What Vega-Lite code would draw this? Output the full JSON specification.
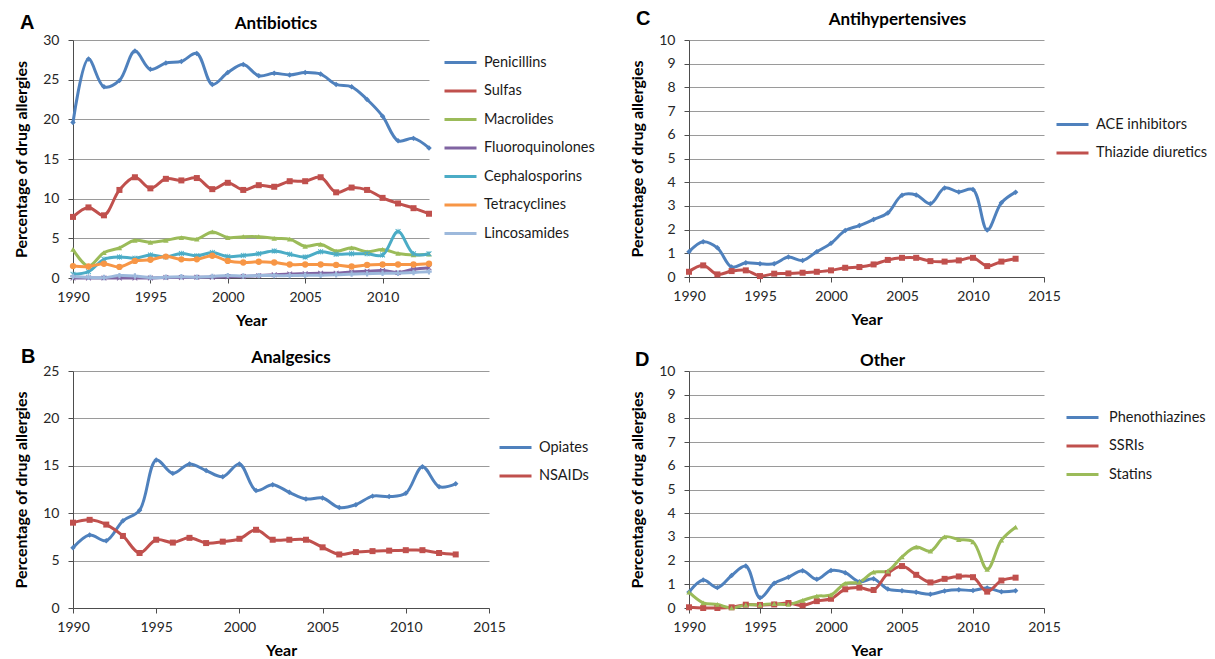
{
"$schema": "https://vega.github.io/schema/vega-lite/v6.json",
"padding": {"left": 13, "top": 9, "right": 0, "bottom": 0},
"background": "white",
"columns": 2,
"bounds": "flush",
"spacing": {"row": 93, "column": 200},
"resolve": {"scale": {"color": "independent"}, "legend": {"color": "independent"}},
"config": {
  "view": {"stroke": null},
  "font": "Lato",
  "axis": {"labelFont": "Lato", "labelFontSize": 14, "labelColor": "#262626", "labelFlush": false, "domainColor": "#4d4d4d", "tickColor": "#4d4d4d", "tickSize": 5, "titleFont": "Lato", "titleFontSize": 16, "titleFontWeight": "bold", "titleColor": "#000000", "gridColor": "#9a9a9a", "gridWidth": 1},
  "axisX": {"grid": false, "labelPadding": 7, "titlePadding": 8, "format": "d"},
  "axisY": {"labelPadding": 9, "titlePadding": 13},
  "legend": {"orient": "none", "symbolType": "stroke", "symbolSize": 1024, "symbolStrokeWidth": 4, "labelFont": "Lato", "labelFontSize": 14.5, "labelColor": "#1a1a1a", "labelOffset": 6, "rowPadding": 4.5, "title": null},
  "title": {"font": "Lato", "fontSize": 17, "fontWeight": "bold", "color": "#000000", "anchor": "middle", "frame": "group", "baseline": "alphabetic", "offset": -20},
  "point": {"filled": true, "size": 30, "opacity": 1},
  "line": {"strokeWidth": 3, "interpolate": "catmull-rom"},
  "text": {"align": "left", "baseline": "alphabetic", "fontSize": 20, "fontWeight": "bold", "font": "Liberation Sans", "color": "#000000"}
},
"datasets": {
  "antibiotics": [
{"year":1990,"drug":"Penicillins","pct":19.6},{"year":1991,"drug":"Penicillins","pct":27.6},{"year":1992,"drug":"Penicillins","pct":24.1},{"year":1993,"drug":"Penicillins","pct":24.9},{"year":1994,"drug":"Penicillins","pct":28.6},{"year":1995,"drug":"Penicillins","pct":26.3},{"year":1996,"drug":"Penicillins","pct":27.1},{"year":1997,"drug":"Penicillins","pct":27.3},{"year":1998,"drug":"Penicillins","pct":28.3},{"year":1999,"drug":"Penicillins","pct":24.4},{"year":2000,"drug":"Penicillins","pct":25.9},{"year":2001,"drug":"Penicillins","pct":26.9},{"year":2002,"drug":"Penicillins","pct":25.5},{"year":2003,"drug":"Penicillins","pct":25.8},{"year":2004,"drug":"Penicillins","pct":25.6},{"year":2005,"drug":"Penicillins","pct":25.9},{"year":2006,"drug":"Penicillins","pct":25.7},{"year":2007,"drug":"Penicillins","pct":24.4},{"year":2008,"drug":"Penicillins","pct":24.1},{"year":2009,"drug":"Penicillins","pct":22.5},{"year":2010,"drug":"Penicillins","pct":20.4},{"year":2011,"drug":"Penicillins","pct":17.3},{"year":2012,"drug":"Penicillins","pct":17.6},{"year":2013,"drug":"Penicillins","pct":16.4},
{"year":1990,"drug":"Sulfas","pct":7.7},{"year":1991,"drug":"Sulfas","pct":8.9},{"year":1992,"drug":"Sulfas","pct":7.9},{"year":1993,"drug":"Sulfas","pct":11.1},{"year":1994,"drug":"Sulfas","pct":12.7},{"year":1995,"drug":"Sulfas","pct":11.3},{"year":1996,"drug":"Sulfas","pct":12.5},{"year":1997,"drug":"Sulfas","pct":12.3},{"year":1998,"drug":"Sulfas","pct":12.6},{"year":1999,"drug":"Sulfas","pct":11.2},{"year":2000,"drug":"Sulfas","pct":12.0},{"year":2001,"drug":"Sulfas","pct":11.1},{"year":2002,"drug":"Sulfas","pct":11.7},{"year":2003,"drug":"Sulfas","pct":11.5},{"year":2004,"drug":"Sulfas","pct":12.2},{"year":2005,"drug":"Sulfas","pct":12.2},{"year":2006,"drug":"Sulfas","pct":12.7},{"year":2007,"drug":"Sulfas","pct":10.8},{"year":2008,"drug":"Sulfas","pct":11.4},{"year":2009,"drug":"Sulfas","pct":11.1},{"year":2010,"drug":"Sulfas","pct":10.1},{"year":2011,"drug":"Sulfas","pct":9.4},{"year":2012,"drug":"Sulfas","pct":8.8},{"year":2013,"drug":"Sulfas","pct":8.1},
{"year":1990,"drug":"Macrolides","pct":3.6},{"year":1991,"drug":"Macrolides","pct":1.5},{"year":1992,"drug":"Macrolides","pct":3.2},{"year":1993,"drug":"Macrolides","pct":3.8},{"year":1994,"drug":"Macrolides","pct":4.75},{"year":1995,"drug":"Macrolides","pct":4.5},{"year":1996,"drug":"Macrolides","pct":4.75},{"year":1997,"drug":"Macrolides","pct":5.1},{"year":1998,"drug":"Macrolides","pct":4.9},{"year":1999,"drug":"Macrolides","pct":5.8},{"year":2000,"drug":"Macrolides","pct":5.1},{"year":2001,"drug":"Macrolides","pct":5.2},{"year":2002,"drug":"Macrolides","pct":5.2},{"year":2003,"drug":"Macrolides","pct":5.0},{"year":2004,"drug":"Macrolides","pct":4.9},{"year":2005,"drug":"Macrolides","pct":4.0},{"year":2006,"drug":"Macrolides","pct":4.25},{"year":2007,"drug":"Macrolides","pct":3.4},{"year":2008,"drug":"Macrolides","pct":3.8},{"year":2009,"drug":"Macrolides","pct":3.3},{"year":2010,"drug":"Macrolides","pct":3.6},{"year":2011,"drug":"Macrolides","pct":3.1},{"year":2012,"drug":"Macrolides","pct":2.9},{"year":2013,"drug":"Macrolides","pct":3.0},
{"year":1990,"drug":"Fluoroquinolones","pct":0.0},{"year":1991,"drug":"Fluoroquinolones","pct":0.0},{"year":1992,"drug":"Fluoroquinolones","pct":0.0},{"year":1993,"drug":"Fluoroquinolones","pct":0.0},{"year":1994,"drug":"Fluoroquinolones","pct":0.0},{"year":1995,"drug":"Fluoroquinolones","pct":0.0},{"year":1996,"drug":"Fluoroquinolones","pct":0.05},{"year":1997,"drug":"Fluoroquinolones","pct":0.05},{"year":1998,"drug":"Fluoroquinolones","pct":0.1},{"year":1999,"drug":"Fluoroquinolones","pct":0.1},{"year":2000,"drug":"Fluoroquinolones","pct":0.15},{"year":2001,"drug":"Fluoroquinolones","pct":0.2},{"year":2002,"drug":"Fluoroquinolones","pct":0.3},{"year":2003,"drug":"Fluoroquinolones","pct":0.4},{"year":2004,"drug":"Fluoroquinolones","pct":0.5},{"year":2005,"drug":"Fluoroquinolones","pct":0.55},{"year":2006,"drug":"Fluoroquinolones","pct":0.6},{"year":2007,"drug":"Fluoroquinolones","pct":0.6},{"year":2008,"drug":"Fluoroquinolones","pct":0.75},{"year":2009,"drug":"Fluoroquinolones","pct":0.85},{"year":2010,"drug":"Fluoroquinolones","pct":0.95},{"year":2011,"drug":"Fluoroquinolones","pct":0.7},{"year":2012,"drug":"Fluoroquinolones","pct":1.1},{"year":2013,"drug":"Fluoroquinolones","pct":1.3},
{"year":1990,"drug":"Cephalosporins","pct":0.46},{"year":1991,"drug":"Cephalosporins","pct":0.8},{"year":1992,"drug":"Cephalosporins","pct":2.35},{"year":1993,"drug":"Cephalosporins","pct":2.65},{"year":1994,"drug":"Cephalosporins","pct":2.5},{"year":1995,"drug":"Cephalosporins","pct":2.9},{"year":1996,"drug":"Cephalosporins","pct":2.65},{"year":1997,"drug":"Cephalosporins","pct":3.1},{"year":1998,"drug":"Cephalosporins","pct":2.8},{"year":1999,"drug":"Cephalosporins","pct":3.2},{"year":2000,"drug":"Cephalosporins","pct":2.7},{"year":2001,"drug":"Cephalosporins","pct":2.85},{"year":2002,"drug":"Cephalosporins","pct":3.05},{"year":2003,"drug":"Cephalosporins","pct":3.4},{"year":2004,"drug":"Cephalosporins","pct":3.0},{"year":2005,"drug":"Cephalosporins","pct":2.65},{"year":2006,"drug":"Cephalosporins","pct":3.3},{"year":2007,"drug":"Cephalosporins","pct":3.0},{"year":2008,"drug":"Cephalosporins","pct":3.05},{"year":2009,"drug":"Cephalosporins","pct":3.05},{"year":2010,"drug":"Cephalosporins","pct":2.9},{"year":2011,"drug":"Cephalosporins","pct":5.85},{"year":2012,"drug":"Cephalosporins","pct":3.05},{"year":2013,"drug":"Cephalosporins","pct":3.05},
{"year":1990,"drug":"Tetracyclines","pct":1.5},{"year":1991,"drug":"Tetracyclines","pct":1.45},{"year":1992,"drug":"Tetracyclines","pct":1.8},{"year":1993,"drug":"Tetracyclines","pct":1.4},{"year":1994,"drug":"Tetracyclines","pct":2.15},{"year":1995,"drug":"Tetracyclines","pct":2.3},{"year":1996,"drug":"Tetracyclines","pct":2.7},{"year":1997,"drug":"Tetracyclines","pct":2.35},{"year":1998,"drug":"Tetracyclines","pct":2.35},{"year":1999,"drug":"Tetracyclines","pct":2.8},{"year":2000,"drug":"Tetracyclines","pct":2.15},{"year":2001,"drug":"Tetracyclines","pct":1.95},{"year":2002,"drug":"Tetracyclines","pct":2.05},{"year":2003,"drug":"Tetracyclines","pct":1.95},{"year":2004,"drug":"Tetracyclines","pct":1.7},{"year":2005,"drug":"Tetracyclines","pct":1.7},{"year":2006,"drug":"Tetracyclines","pct":1.7},{"year":2007,"drug":"Tetracyclines","pct":1.65},{"year":2008,"drug":"Tetracyclines","pct":1.45},{"year":2009,"drug":"Tetracyclines","pct":1.65},{"year":2010,"drug":"Tetracyclines","pct":1.7},{"year":2011,"drug":"Tetracyclines","pct":1.7},{"year":2012,"drug":"Tetracyclines","pct":1.7},{"year":2013,"drug":"Tetracyclines","pct":1.8},
{"year":1990,"drug":"Lincosamides","pct":0.2},{"year":1991,"drug":"Lincosamides","pct":0.1},{"year":1992,"drug":"Lincosamides","pct":0.05},{"year":1993,"drug":"Lincosamides","pct":0.3},{"year":1994,"drug":"Lincosamides","pct":0.25},{"year":1995,"drug":"Lincosamides","pct":0.05},{"year":1996,"drug":"Lincosamides","pct":0.1},{"year":1997,"drug":"Lincosamides","pct":0.15},{"year":1998,"drug":"Lincosamides","pct":0.1},{"year":1999,"drug":"Lincosamides","pct":0.2},{"year":2000,"drug":"Lincosamides","pct":0.3},{"year":2001,"drug":"Lincosamides","pct":0.25},{"year":2002,"drug":"Lincosamides","pct":0.3},{"year":2003,"drug":"Lincosamides","pct":0.3},{"year":2004,"drug":"Lincosamides","pct":0.3},{"year":2005,"drug":"Lincosamides","pct":0.35},{"year":2006,"drug":"Lincosamides","pct":0.35},{"year":2007,"drug":"Lincosamides","pct":0.4},{"year":2008,"drug":"Lincosamides","pct":0.5},{"year":2009,"drug":"Lincosamides","pct":0.55},{"year":2010,"drug":"Lincosamides","pct":0.6},{"year":2011,"drug":"Lincosamides","pct":0.6},{"year":2012,"drug":"Lincosamides","pct":0.7},{"year":2013,"drug":"Lincosamides","pct":0.8}
  ],
  "antihypertensives": [
{"year":1990,"drug":"ACE inhibitors","pct":1.07},{"year":1991,"drug":"ACE inhibitors","pct":1.49},{"year":1992,"drug":"ACE inhibitors","pct":1.23},{"year":1993,"drug":"ACE inhibitors","pct":0.42},{"year":1994,"drug":"ACE inhibitors","pct":0.6},{"year":1995,"drug":"ACE inhibitors","pct":0.56},{"year":1996,"drug":"ACE inhibitors","pct":0.56},{"year":1997,"drug":"ACE inhibitors","pct":0.84},{"year":1998,"drug":"ACE inhibitors","pct":0.7},{"year":1999,"drug":"ACE inhibitors","pct":1.07},{"year":2000,"drug":"ACE inhibitors","pct":1.42},{"year":2001,"drug":"ACE inhibitors","pct":1.96},{"year":2002,"drug":"ACE inhibitors","pct":2.17},{"year":2003,"drug":"ACE inhibitors","pct":2.43},{"year":2004,"drug":"ACE inhibitors","pct":2.7},{"year":2005,"drug":"ACE inhibitors","pct":3.45},{"year":2006,"drug":"ACE inhibitors","pct":3.46},{"year":2007,"drug":"ACE inhibitors","pct":3.09},{"year":2008,"drug":"ACE inhibitors","pct":3.76},{"year":2009,"drug":"ACE inhibitors","pct":3.59},{"year":2010,"drug":"ACE inhibitors","pct":3.69},{"year":2011,"drug":"ACE inhibitors","pct":1.98},{"year":2012,"drug":"ACE inhibitors","pct":3.13},{"year":2013,"drug":"ACE inhibitors","pct":3.58},
{"year":1990,"drug":"Thiazide diuretics","pct":0.22},{"year":1991,"drug":"Thiazide diuretics","pct":0.49},{"year":1992,"drug":"Thiazide diuretics","pct":0.11},{"year":1993,"drug":"Thiazide diuretics","pct":0.25},{"year":1994,"drug":"Thiazide diuretics","pct":0.28},{"year":1995,"drug":"Thiazide diuretics","pct":0.04},{"year":1996,"drug":"Thiazide diuretics","pct":0.14},{"year":1997,"drug":"Thiazide diuretics","pct":0.15},{"year":1998,"drug":"Thiazide diuretics","pct":0.18},{"year":1999,"drug":"Thiazide diuretics","pct":0.22},{"year":2000,"drug":"Thiazide diuretics","pct":0.28},{"year":2001,"drug":"Thiazide diuretics","pct":0.39},{"year":2002,"drug":"Thiazide diuretics","pct":0.42},{"year":2003,"drug":"Thiazide diuretics","pct":0.53},{"year":2004,"drug":"Thiazide diuretics","pct":0.72},{"year":2005,"drug":"Thiazide diuretics","pct":0.81},{"year":2006,"drug":"Thiazide diuretics","pct":0.81},{"year":2007,"drug":"Thiazide diuretics","pct":0.67},{"year":2008,"drug":"Thiazide diuretics","pct":0.65},{"year":2009,"drug":"Thiazide diuretics","pct":0.7},{"year":2010,"drug":"Thiazide diuretics","pct":0.81},{"year":2011,"drug":"Thiazide diuretics","pct":0.46},{"year":2012,"drug":"Thiazide diuretics","pct":0.65},{"year":2013,"drug":"Thiazide diuretics","pct":0.77}
  ],
  "analgesics": [
{"year":1990,"drug":"Opiates","pct":6.35},{"year":1991,"drug":"Opiates","pct":7.7},{"year":1992,"drug":"Opiates","pct":7.1},{"year":1993,"drug":"Opiates","pct":9.2},{"year":1994,"drug":"Opiates","pct":10.3},{"year":1995,"drug":"Opiates","pct":15.6},{"year":1996,"drug":"Opiates","pct":14.2},{"year":1997,"drug":"Opiates","pct":15.2},{"year":1998,"drug":"Opiates","pct":14.5},{"year":1999,"drug":"Opiates","pct":13.85},{"year":2000,"drug":"Opiates","pct":15.2},{"year":2001,"drug":"Opiates","pct":12.4},{"year":2002,"drug":"Opiates","pct":13.0},{"year":2003,"drug":"Opiates","pct":12.2},{"year":2004,"drug":"Opiates","pct":11.5},{"year":2005,"drug":"Opiates","pct":11.6},{"year":2006,"drug":"Opiates","pct":10.6},{"year":2007,"drug":"Opiates","pct":10.9},{"year":2008,"drug":"Opiates","pct":11.8},{"year":2009,"drug":"Opiates","pct":11.75},{"year":2010,"drug":"Opiates","pct":12.1},{"year":2011,"drug":"Opiates","pct":14.9},{"year":2012,"drug":"Opiates","pct":12.8},{"year":2013,"drug":"Opiates","pct":13.1},
{"year":1990,"drug":"NSAIDs","pct":9.0},{"year":1991,"drug":"NSAIDs","pct":9.3},{"year":1992,"drug":"NSAIDs","pct":8.8},{"year":1993,"drug":"NSAIDs","pct":7.6},{"year":1994,"drug":"NSAIDs","pct":5.8},{"year":1995,"drug":"NSAIDs","pct":7.2},{"year":1996,"drug":"NSAIDs","pct":6.9},{"year":1997,"drug":"NSAIDs","pct":7.4},{"year":1998,"drug":"NSAIDs","pct":6.85},{"year":1999,"drug":"NSAIDs","pct":7.0},{"year":2000,"drug":"NSAIDs","pct":7.3},{"year":2001,"drug":"NSAIDs","pct":8.25},{"year":2002,"drug":"NSAIDs","pct":7.2},{"year":2003,"drug":"NSAIDs","pct":7.2},{"year":2004,"drug":"NSAIDs","pct":7.2},{"year":2005,"drug":"NSAIDs","pct":6.4},{"year":2006,"drug":"NSAIDs","pct":5.65},{"year":2007,"drug":"NSAIDs","pct":5.9},{"year":2008,"drug":"NSAIDs","pct":6.0},{"year":2009,"drug":"NSAIDs","pct":6.05},{"year":2010,"drug":"NSAIDs","pct":6.1},{"year":2011,"drug":"NSAIDs","pct":6.1},{"year":2012,"drug":"NSAIDs","pct":5.8},{"year":2013,"drug":"NSAIDs","pct":5.65}
  ],
  "other": [
{"year":1990,"drug":"Phenothiazines","pct":0.67},{"year":1991,"drug":"Phenothiazines","pct":1.18},{"year":1992,"drug":"Phenothiazines","pct":0.86},{"year":1993,"drug":"Phenothiazines","pct":1.37},{"year":1994,"drug":"Phenothiazines","pct":1.77},{"year":1995,"drug":"Phenothiazines","pct":0.43},{"year":1996,"drug":"Phenothiazines","pct":1.04},{"year":1997,"drug":"Phenothiazines","pct":1.3},{"year":1998,"drug":"Phenothiazines","pct":1.57},{"year":1999,"drug":"Phenothiazines","pct":1.21},{"year":2000,"drug":"Phenothiazines","pct":1.58},{"year":2001,"drug":"Phenothiazines","pct":1.49},{"year":2002,"drug":"Phenothiazines","pct":1.11},{"year":2003,"drug":"Phenothiazines","pct":1.23},{"year":2004,"drug":"Phenothiazines","pct":0.8},{"year":2005,"drug":"Phenothiazines","pct":0.73},{"year":2006,"drug":"Phenothiazines","pct":0.66},{"year":2007,"drug":"Phenothiazines","pct":0.58},{"year":2008,"drug":"Phenothiazines","pct":0.72},{"year":2009,"drug":"Phenothiazines","pct":0.77},{"year":2010,"drug":"Phenothiazines","pct":0.74},{"year":2011,"drug":"Phenothiazines","pct":0.84},{"year":2012,"drug":"Phenothiazines","pct":0.69},{"year":2013,"drug":"Phenothiazines","pct":0.73},
{"year":1990,"drug":"SSRIs","pct":0.03},{"year":1991,"drug":"SSRIs","pct":0.0},{"year":1992,"drug":"SSRIs","pct":0.0},{"year":1993,"drug":"SSRIs","pct":0.03},{"year":1994,"drug":"SSRIs","pct":0.14},{"year":1995,"drug":"SSRIs","pct":0.13},{"year":1996,"drug":"SSRIs","pct":0.15},{"year":1997,"drug":"SSRIs","pct":0.21},{"year":1998,"drug":"SSRIs","pct":0.11},{"year":1999,"drug":"SSRIs","pct":0.29},{"year":2000,"drug":"SSRIs","pct":0.39},{"year":2001,"drug":"SSRIs","pct":0.79},{"year":2002,"drug":"SSRIs","pct":0.86},{"year":2003,"drug":"SSRIs","pct":0.76},{"year":2004,"drug":"SSRIs","pct":1.46},{"year":2005,"drug":"SSRIs","pct":1.77},{"year":2006,"drug":"SSRIs","pct":1.4},{"year":2007,"drug":"SSRIs","pct":1.08},{"year":2008,"drug":"SSRIs","pct":1.23},{"year":2009,"drug":"SSRIs","pct":1.33},{"year":2010,"drug":"SSRIs","pct":1.3},{"year":2011,"drug":"SSRIs","pct":0.69},{"year":2012,"drug":"SSRIs","pct":1.16},{"year":2013,"drug":"SSRIs","pct":1.28},
{"year":1990,"drug":"Statins","pct":0.67},{"year":1991,"drug":"Statins","pct":0.22},{"year":1992,"drug":"Statins","pct":0.15},{"year":1993,"drug":"Statins","pct":0.0},{"year":1994,"drug":"Statins","pct":0.13},{"year":1995,"drug":"Statins","pct":0.13},{"year":1996,"drug":"Statins","pct":0.18},{"year":1997,"drug":"Statins","pct":0.15},{"year":1998,"drug":"Statins","pct":0.32},{"year":1999,"drug":"Statins","pct":0.5},{"year":2000,"drug":"Statins","pct":0.55},{"year":2001,"drug":"Statins","pct":1.04},{"year":2002,"drug":"Statins","pct":1.09},{"year":2003,"drug":"Statins","pct":1.51},{"year":2004,"drug":"Statins","pct":1.56},{"year":2005,"drug":"Statins","pct":2.16},{"year":2006,"drug":"Statins","pct":2.57},{"year":2007,"drug":"Statins","pct":2.4},{"year":2008,"drug":"Statins","pct":3.0},{"year":2009,"drug":"Statins","pct":2.89},{"year":2010,"drug":"Statins","pct":2.79},{"year":2011,"drug":"Statins","pct":1.63},{"year":2012,"drug":"Statins","pct":2.86},{"year":2013,"drug":"Statins","pct":3.41}
  ]
},
"concat": [
{
  "width": 356, "height": 238,
  "title": {"text": "Antibiotics", "dx": 25},
  "layer": [
    {"data": {"name": "antibiotics"}, "mark": "line",
     "encoding": {
       "x": {"field": "year", "type": "quantitative", "scale": {"domain": [1990, 2013], "nice": false, "zero": false}, "axis": {"values": [1990, 1995, 2000, 2005, 2010], "title": "Year"}},
       "y": {"field": "pct", "type": "quantitative", "scale": {"domain": [0, 30], "nice": false}, "axis": {"values": [0, 5, 10, 15, 20, 25, 30], "title": "Percentage of drug allergies"}},
       "color": {"field": "drug", "type": "nominal", "scale": {"domain": ["Penicillins", "Sulfas", "Macrolides", "Fluoroquinolones", "Cephalosporins", "Tetracyclines", "Lincosamides"], "range": ["#4F81BD", "#C0504D", "#9BBB59", "#8064A2", "#4BACC6", "#F79646", "#9DB9DC"]}, "legend": {"legendX": 370, "legendY": 5}}
     }},
    {"data": {"name": "antibiotics"}, "transform": [{"filter": {"field": "drug", "equal": "Penicillins"}}],
     "mark": {"type": "point", "shape": "diamond", "color": "#4F81BD"},
     "encoding": {
       "x": {"field": "year", "type": "quantitative", "scale": {"domain": [1990, 2013], "nice": false, "zero": false}, "axis": {"values": [1990, 1995, 2000, 2005, 2010], "title": "Year"}},
       "y": {"field": "pct", "type": "quantitative", "scale": {"domain": [0, 30], "nice": false}, "axis": {"values": [0, 5, 10, 15, 20, 25, 30], "title": "Percentage of drug allergies"}}}},
    {"data": {"name": "antibiotics"}, "transform": [{"filter": {"field": "drug", "equal": "Sulfas"}}],
     "mark": {"type": "point", "shape": "square", "color": "#C0504D", "size": 36},
     "encoding": {
       "x": {"field": "year", "type": "quantitative", "scale": {"domain": [1990, 2013], "nice": false, "zero": false}, "axis": {"values": [1990, 1995, 2000, 2005, 2010], "title": "Year"}},
       "y": {"field": "pct", "type": "quantitative", "scale": {"domain": [0, 30], "nice": false}, "axis": {"values": [0, 5, 10, 15, 20, 25, 30], "title": "Percentage of drug allergies"}}}},
    {"data": {"name": "antibiotics"}, "transform": [{"filter": {"field": "drug", "equal": "Macrolides"}}],
     "mark": {"type": "point", "shape": "triangle-up", "color": "#9BBB59"},
     "encoding": {
       "x": {"field": "year", "type": "quantitative", "scale": {"domain": [1990, 2013], "nice": false, "zero": false}, "axis": {"values": [1990, 1995, 2000, 2005, 2010], "title": "Year"}},
       "y": {"field": "pct", "type": "quantitative", "scale": {"domain": [0, 30], "nice": false}, "axis": {"values": [0, 5, 10, 15, 20, 25, 30], "title": "Percentage of drug allergies"}}}},
    {"data": {"name": "antibiotics"}, "transform": [{"filter": {"field": "drug", "equal": "Fluoroquinolones"}}],
     "mark": {"type": "point", "shape": "M-1,-0.75L-0.75,-1L0,-0.25L0.75,-1L1,-0.75L0.25,0L1,0.75L0.75,1L0,0.25L-0.75,1L-1,0.75L-0.25,0Z", "color": "#8064A2"},
     "encoding": {
       "x": {"field": "year", "type": "quantitative", "scale": {"domain": [1990, 2013], "nice": false, "zero": false}, "axis": {"values": [1990, 1995, 2000, 2005, 2010], "title": "Year"}},
       "y": {"field": "pct", "type": "quantitative", "scale": {"domain": [0, 30], "nice": false}, "axis": {"values": [0, 5, 10, 15, 20, 25, 30], "title": "Percentage of drug allergies"}}}},
    {"data": {"name": "antibiotics"}, "transform": [{"filter": {"field": "drug", "equal": "Cephalosporins"}}],
     "mark": {"type": "point", "shape": "M-1,-0.75L-0.75,-1L0,-0.25L0.75,-1L1,-0.75L0.25,0L1,0.75L0.75,1L0,0.25L-0.75,1L-1,0.75L-0.25,0ZM-0.15,-1L0.15,-1L0.15,1L-0.15,1Z", "color": "#4BACC6"},
     "encoding": {
       "x": {"field": "year", "type": "quantitative", "scale": {"domain": [1990, 2013], "nice": false, "zero": false}, "axis": {"values": [1990, 1995, 2000, 2005, 2010], "title": "Year"}},
       "y": {"field": "pct", "type": "quantitative", "scale": {"domain": [0, 30], "nice": false}, "axis": {"values": [0, 5, 10, 15, 20, 25, 30], "title": "Percentage of drug allergies"}}}},
    {"data": {"name": "antibiotics"}, "transform": [{"filter": {"field": "drug", "equal": "Tetracyclines"}}],
     "mark": {"type": "point", "shape": "circle", "color": "#F79646", "size": 40},
     "encoding": {
       "x": {"field": "year", "type": "quantitative", "scale": {"domain": [1990, 2013], "nice": false, "zero": false}, "axis": {"values": [1990, 1995, 2000, 2005, 2010], "title": "Year"}},
       "y": {"field": "pct", "type": "quantitative", "scale": {"domain": [0, 30], "nice": false}, "axis": {"values": [0, 5, 10, 15, 20, 25, 30], "title": "Percentage of drug allergies"}}}},
    {"data": {"name": "antibiotics"}, "transform": [{"filter": {"field": "drug", "equal": "Lincosamides"}}],
     "mark": {"type": "point", "shape": "cross", "color": "#9DB9DC"},
     "encoding": {
       "x": {"field": "year", "type": "quantitative", "scale": {"domain": [1990, 2013], "nice": false, "zero": false}, "axis": {"values": [1990, 1995, 2000, 2005, 2010], "title": "Year"}},
       "y": {"field": "pct", "type": "quantitative", "scale": {"domain": [0, 30], "nice": false}, "axis": {"values": [0, 5, 10, 15, 20, 25, 30], "title": "Percentage of drug allergies"}}}},
    {"data": {"values": [{"letter": "A"}]},
     "mark": {"type": "text", "dx": -53, "dy": -11},
     "encoding": {"text": {"field": "letter"},
       "x": {"datum": 1990, "type": "quantitative", "scale": {"domain": [1990, 2013], "nice": false, "zero": false}, "axis": {"values": [1990, 1995, 2000, 2005, 2010], "title": "Year"}},
       "y": {"datum": 30, "type": "quantitative", "scale": {"domain": [0, 30], "nice": false}, "axis": {"values": [0, 5, 10, 15, 20, 25, 30], "title": "Percentage of drug allergies"}}}}
  ]
},
{
  "width": 355, "height": 237,
  "title": {"text": "Antihypertensives", "dx": 31},
  "layer": [
    {"data": {"name": "antihypertensives"}, "mark": "line",
     "encoding": {
       "x": {"field": "year", "type": "quantitative", "scale": {"domain": [1990, 2015], "nice": false, "zero": false}, "axis": {"values": [1990, 1995, 2000, 2005, 2010, 2015], "title": "Year"}},
       "y": {"field": "pct", "type": "quantitative", "scale": {"domain": [0, 10], "nice": false}, "axis": {"values": [0, 1, 2, 3, 4, 5, 6, 7, 8, 9, 10], "title": "Percentage of drug allergies"}},
       "color": {"field": "drug", "type": "nominal", "scale": {"domain": ["ACE inhibitors", "Thiazide diuretics"], "range": ["#4F81BD", "#C0504D"]}, "legend": {"legendX": 366, "legendY": 67}}
     }},
    {"data": {"name": "antihypertensives"}, "transform": [{"filter": {"field": "drug", "equal": "ACE inhibitors"}}],
     "mark": {"type": "point", "shape": "diamond", "color": "#4F81BD"},
     "encoding": {
       "x": {"field": "year", "type": "quantitative", "scale": {"domain": [1990, 2015], "nice": false, "zero": false}, "axis": {"values": [1990, 1995, 2000, 2005, 2010, 2015], "title": "Year"}},
       "y": {"field": "pct", "type": "quantitative", "scale": {"domain": [0, 10], "nice": false}, "axis": {"values": [0, 1, 2, 3, 4, 5, 6, 7, 8, 9, 10], "title": "Percentage of drug allergies"}}}},
    {"data": {"name": "antihypertensives"}, "transform": [{"filter": {"field": "drug", "equal": "Thiazide diuretics"}}],
     "mark": {"type": "point", "shape": "square", "color": "#C0504D", "size": 36},
     "encoding": {
       "x": {"field": "year", "type": "quantitative", "scale": {"domain": [1990, 2015], "nice": false, "zero": false}, "axis": {"values": [1990, 1995, 2000, 2005, 2010, 2015], "title": "Year"}},
       "y": {"field": "pct", "type": "quantitative", "scale": {"domain": [0, 10], "nice": false}, "axis": {"values": [0, 1, 2, 3, 4, 5, 6, 7, 8, 9, 10], "title": "Percentage of drug allergies"}}}},
    {"data": {"values": [{"letter": "C"}]},
     "mark": {"type": "text", "dx": -53, "dy": -15},
     "encoding": {"text": {"field": "letter"},
       "x": {"datum": 1990, "type": "quantitative", "scale": {"domain": [1990, 2015], "nice": false, "zero": false}, "axis": {"values": [1990, 1995, 2000, 2005, 2010, 2015], "title": "Year"}},
       "y": {"datum": 10, "type": "quantitative", "scale": {"domain": [0, 10], "nice": false}, "axis": {"values": [0, 1, 2, 3, 4, 5, 6, 7, 8, 9, 10], "title": "Percentage of drug allergies"}}}}
  ]
},
{
  "width": 416, "height": 237,
  "title": {"text": "Analgesics", "dx": 10},
  "layer": [
    {"data": {"name": "analgesics"}, "mark": "line",
     "encoding": {
       "x": {"field": "year", "type": "quantitative", "scale": {"domain": [1990, 2015], "nice": false, "zero": false}, "axis": {"values": [1990, 1995, 2000, 2005, 2010, 2015], "title": "Year"}},
       "y": {"field": "pct", "type": "quantitative", "scale": {"domain": [0, 25], "nice": false}, "axis": {"values": [0, 5, 10, 15, 20, 25], "title": "Percentage of drug allergies"}},
       "color": {"field": "drug", "type": "nominal", "scale": {"domain": ["Opiates", "NSAIDs"], "range": ["#4F81BD", "#C0504D"]}, "legend": {"legendX": 425, "legendY": 59}}
     }},
    {"data": {"name": "analgesics"}, "transform": [{"filter": {"field": "drug", "equal": "Opiates"}}],
     "mark": {"type": "point", "shape": "diamond", "color": "#4F81BD"},
     "encoding": {
       "x": {"field": "year", "type": "quantitative", "scale": {"domain": [1990, 2015], "nice": false, "zero": false}, "axis": {"values": [1990, 1995, 2000, 2005, 2010, 2015], "title": "Year"}},
       "y": {"field": "pct", "type": "quantitative", "scale": {"domain": [0, 25], "nice": false}, "axis": {"values": [0, 5, 10, 15, 20, 25], "title": "Percentage of drug allergies"}}}},
    {"data": {"name": "analgesics"}, "transform": [{"filter": {"field": "drug", "equal": "NSAIDs"}}],
     "mark": {"type": "point", "shape": "square", "color": "#C0504D", "size": 36},
     "encoding": {
       "x": {"field": "year", "type": "quantitative", "scale": {"domain": [1990, 2015], "nice": false, "zero": false}, "axis": {"values": [1990, 1995, 2000, 2005, 2010, 2015], "title": "Year"}},
       "y": {"field": "pct", "type": "quantitative", "scale": {"domain": [0, 25], "nice": false}, "axis": {"values": [0, 5, 10, 15, 20, 25], "title": "Percentage of drug allergies"}}}},
    {"data": {"values": [{"letter": "B"}]},
     "mark": {"type": "text", "dx": -52, "dy": -8},
     "encoding": {"text": {"field": "letter"},
       "x": {"datum": 1990, "type": "quantitative", "scale": {"domain": [1990, 2015], "nice": false, "zero": false}, "axis": {"values": [1990, 1995, 2000, 2005, 2010, 2015], "title": "Year"}},
       "y": {"datum": 25, "type": "quantitative", "scale": {"domain": [0, 25], "nice": false}, "axis": {"values": [0, 5, 10, 15, 20, 25], "title": "Percentage of drug allergies"}}}}
  ]
},
{
  "width": 355, "height": 237,
  "title": {"text": "Other", "dx": 16},
  "layer": [
    {"data": {"name": "other"}, "mark": "line",
     "encoding": {
       "x": {"field": "year", "type": "quantitative", "scale": {"domain": [1990, 2015], "nice": false, "zero": false}, "axis": {"values": [1990, 1995, 2000, 2005, 2010, 2015], "title": "Year"}},
       "y": {"field": "pct", "type": "quantitative", "scale": {"domain": [0, 10], "nice": false}, "axis": {"values": [0, 1, 2, 3, 4, 5, 6, 7, 8, 9, 10], "title": "Percentage of drug allergies"}},
       "color": {"field": "drug", "type": "nominal", "scale": {"domain": ["Phenothiazines", "SSRIs", "Statins"], "range": ["#4F81BD", "#C0504D", "#9BBB59"]}, "legend": {"legendX": 376, "legendY": 29, "labelOffset": 9}}
     }},
    {"data": {"name": "other"}, "transform": [{"filter": {"field": "drug", "equal": "Phenothiazines"}}],
     "mark": {"type": "point", "shape": "diamond", "color": "#4F81BD"},
     "encoding": {
       "x": {"field": "year", "type": "quantitative", "scale": {"domain": [1990, 2015], "nice": false, "zero": false}, "axis": {"values": [1990, 1995, 2000, 2005, 2010, 2015], "title": "Year"}},
       "y": {"field": "pct", "type": "quantitative", "scale": {"domain": [0, 10], "nice": false}, "axis": {"values": [0, 1, 2, 3, 4, 5, 6, 7, 8, 9, 10], "title": "Percentage of drug allergies"}}}},
    {"data": {"name": "other"}, "transform": [{"filter": {"field": "drug", "equal": "SSRIs"}}],
     "mark": {"type": "point", "shape": "square", "color": "#C0504D", "size": 36},
     "encoding": {
       "x": {"field": "year", "type": "quantitative", "scale": {"domain": [1990, 2015], "nice": false, "zero": false}, "axis": {"values": [1990, 1995, 2000, 2005, 2010, 2015], "title": "Year"}},
       "y": {"field": "pct", "type": "quantitative", "scale": {"domain": [0, 10], "nice": false}, "axis": {"values": [0, 1, 2, 3, 4, 5, 6, 7, 8, 9, 10], "title": "Percentage of drug allergies"}}}},
    {"data": {"name": "other"}, "transform": [{"filter": {"field": "drug", "equal": "Statins"}}],
     "mark": {"type": "point", "shape": "triangle-up", "color": "#9BBB59"},
     "encoding": {
       "x": {"field": "year", "type": "quantitative", "scale": {"domain": [1990, 2015], "nice": false, "zero": false}, "axis": {"values": [1990, 1995, 2000, 2005, 2010, 2015], "title": "Year"}},
       "y": {"field": "pct", "type": "quantitative", "scale": {"domain": [0, 10], "nice": false}, "axis": {"values": [0, 1, 2, 3, 4, 5, 6, 7, 8, 9, 10], "title": "Percentage of drug allergies"}}}},
    {"data": {"values": [{"letter": "D"}]},
     "mark": {"type": "text", "dx": -54, "dy": -5},
     "encoding": {"text": {"field": "letter"},
       "x": {"datum": 1990, "type": "quantitative", "scale": {"domain": [1990, 2015], "nice": false, "zero": false}, "axis": {"values": [1990, 1995, 2000, 2005, 2010, 2015], "title": "Year"}},
       "y": {"datum": 10, "type": "quantitative", "scale": {"domain": [0, 10], "nice": false}, "axis": {"values": [0, 1, 2, 3, 4, 5, 6, 7, 8, 9, 10], "title": "Percentage of drug allergies"}}}}
  ]
}
]
}
